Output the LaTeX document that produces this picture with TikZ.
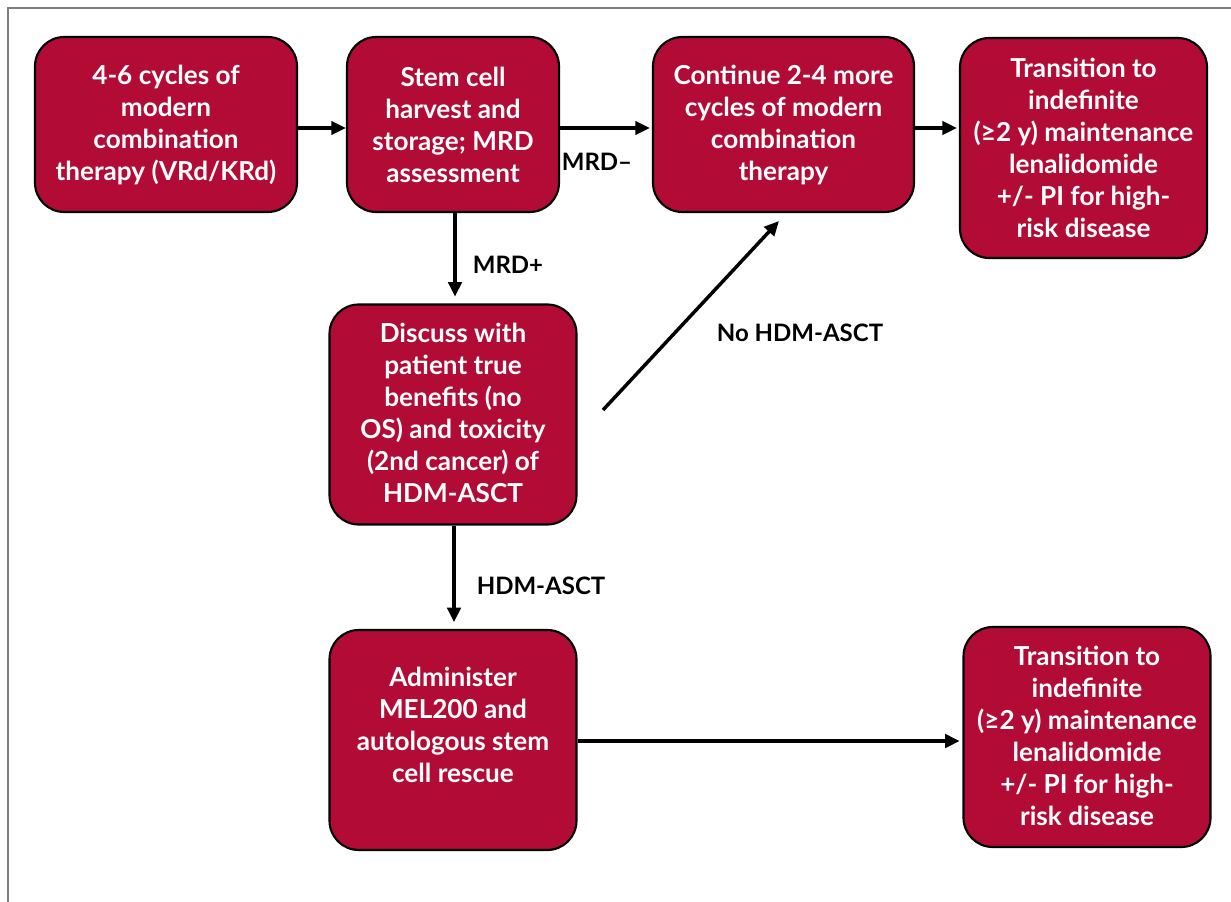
\documentclass[tikz,border=0pt]{standalone}
\usepackage{fontspec}
\setmainfont{Lato}
\usetikzlibrary{arrows.meta}
\definecolor{boxred}{HTML}{B20B35}
\definecolor{framegray}{HTML}{7F7F7F}
\tikzset{
  flowbox/.style={draw=black, line width=1.6pt, fill=boxred, rounded corners=22pt, inner sep=0pt},
  boxtext/.style={text=white, font=\fontsize{19.6}{24}\selectfont\bfseries, align=center, inner sep=0pt},
  arr/.style={line width=2.6pt, -{Triangle[length=11pt,width=10pt]}},
  lbl/.style={font=\fontsize{18}{20}\selectfont\bfseries, text=black, inner sep=0pt}
}
\begin{document}
\begin{tikzpicture}[x=0.75pt,y=-0.75pt]
\useasboundingbox (0,0) rectangle (1231,902);
\draw[framegray, line width=1.2pt] (8,902) -- (8,8) -- (1231,8);
% boxes
\node[flowbox, minimum width=262*0.75pt, minimum height=175*0.75pt] (b1) at (166,124.5) {};
\node[flowbox, minimum width=212*0.75pt, minimum height=175*0.75pt] (b2) at (453,124.5) {};
\node[flowbox, minimum width=261*0.75pt, minimum height=175*0.75pt] (b3) at (783.5,124.5) {};
\node[flowbox, minimum width=247*0.75pt, minimum height=220*0.75pt] (b4) at (1083.5,148) {};
\node[flowbox, minimum width=247*0.75pt, minimum height=220*0.75pt] (b5) at (453,414.5) {};
\node[flowbox, minimum width=247*0.75pt, minimum height=220*0.75pt] (b6) at (453,740) {};
\node[flowbox, minimum width=247*0.75pt, minimum height=220*0.75pt] (b7) at (1087,737) {};
% texts
\node[boxtext] (t1) at (166,124.5) {4-6 cycles of\\modern\\combination\\therapy (VRd/KRd)};
\node[boxtext] (t2) at (453,124.5) {Stem cell\\harvest and\\storage; MRD\\assessment};
\node[boxtext] (t3) at (783.5,124.5) {Continue 2-4 more\\cycles of modern\\combination\\therapy};
\node[boxtext] (t4) at (1083.5,148) {Transition to\\indefinite\\(≥2 y) maintenance\\lenalidomide\\+/- PI for high-\\risk disease};
\node[boxtext] (t5) at (453,413) {Discuss with\\patient true\\benefits (no\\OS) and toxicity\\(2nd cancer) of\\HDM-ASCT};
\node[boxtext] (t6) at (453,725) {Administer\\MEL200 and\\autologous stem\\cell rescue};
\node[boxtext] (t7) at (1087,736) {Transition to\\indefinite\\(≥2 y) maintenance\\lenalidomide\\+/- PI for high-\\risk disease};
% connectors
\draw[arr] (b1.east |- 0,128) -- (b2.west |- 0,128);
\draw[arr] (b2.east |- 0,128) -- ([xshift=-1.5pt]b3.west |- 0,128);
\draw[arr] (b3.east |- 0,128) -- ([xshift=-1.5pt]b4.west |- 0,128);
\draw[arr] (b2.south -| 455,0) -- ([yshift=5pt]b5.north -| 455,0);
\draw[arr] (b5.south -| 454,0) -- ([yshift=5pt]b6.north -| 454,0);
\coordinate (dstart) at (603,410);
\coordinate (dend) at (779,221);
\draw[arr] (dstart) -- (dend);
\draw[arr] (b6.east |- 0,741) -- ([xshift=-2pt]b7.west |- 0,741);
% labels
\node[lbl] (l1) at (597,162) {MRD–};
\node[lbl] (l2) at (508,265) {MRD+};
\node[lbl] (l3) at (800,333) {No HDM-ASCT};
\node[lbl] (l4) at (541,586) {HDM-ASCT};
\end{tikzpicture}
\end{document}
